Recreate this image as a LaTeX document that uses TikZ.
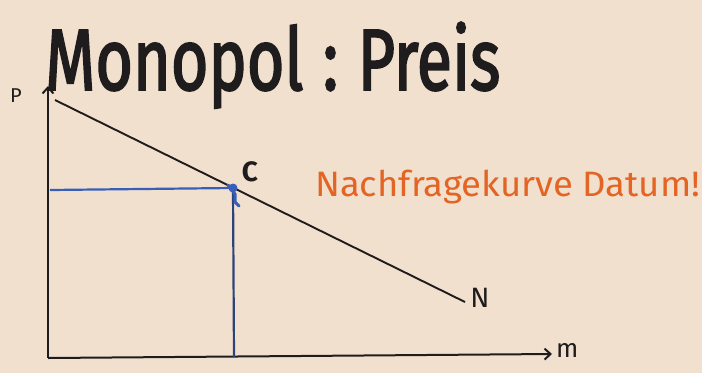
\documentclass[tikz,border=0pt]{standalone}
\usepackage{fontspec}
\setsansfont{Fira Sans}
\newfontfamily\titlefont{Fira Sans}[RawFeature={embolden=2.5}]
\usetikzlibrary{arrows.meta}
\definecolor{board}{RGB}{242,224,206}
\definecolor{ink}{RGB}{30,28,28}
\definecolor{bluepen}{RGB}{55,95,185}
\definecolor{orangepen}{RGB}{228,100,35}
\tikzset{
  axis/.style={draw=ink, line width=2pt, -{Straight Barb[length=6pt,width=11pt]}},
  demand/.style={draw=ink, line width=1.9pt},
  guide/.style={draw=bluepen, line width=2.2pt},
  lbl/.style={text=ink, font=\sffamily, inner sep=0pt},
}
\begin{document}
\begin{tikzpicture}[x=1pt,y=-1pt]
\useasboundingbox[fill=board] (0,0) rectangle (702,373);
% title
\node[anchor=north west, inner sep=0pt, text=ink] (title) at (45,22)
  {\resizebox*{455pt}{86pt}{\titlefont Monopol\hspace{0.3em}:\hspace{0.3em}Preis}};
% axes
\coordinate (O) at (48,358);
\coordinate (ytop) at (48,86);
\coordinate (xend) at (552,354);
\draw[axis] (O) -- (ytop);
\draw[axis] (O) -- (xend);
\node[lbl, font=\sffamily\fontsize{20}{20}\selectfont] (p) at (16,96) {P};
\node[lbl, font=\sffamily\fontsize{26}{26}\selectfont, anchor=west] (m) at (556,350) {m};
% demand curve
\coordinate (dtop) at (55,100);
\coordinate (dend) at (465,302);
\draw[demand] (dtop) -- (dend);
\coordinate (C) at (233,188);
% blue guides
\coordinate (pC) at (50,190);
\coordinate (mC) at (234,357);
\draw[guide] (pC) -- (C);
\draw[guide, draw=bluepen!60!ink] (C) -- (mC);
\fill[bluepen] (C) circle (4.5pt);
\draw[guide, line width=3pt, line cap=round] (C) ++(-5,-3) -- ++(7,9) -- ++(0,8) -- ++(4,4);
% labels
\node[lbl, font=\sffamily\bfseries\fontsize{28}{28}\selectfont] (clabel) at (250,172) {C};
\node[lbl, font=\sffamily\fontsize{28}{28}\selectfont] (nlabel) at (480,298) {N};
\node[anchor=north west, inner sep=0pt, text=orangepen] (note) at (315,170)
  {\resizebox*{385pt}{34pt}{\sffamily Nachfragekurve Datum!}};
\end{tikzpicture}
\end{document}
